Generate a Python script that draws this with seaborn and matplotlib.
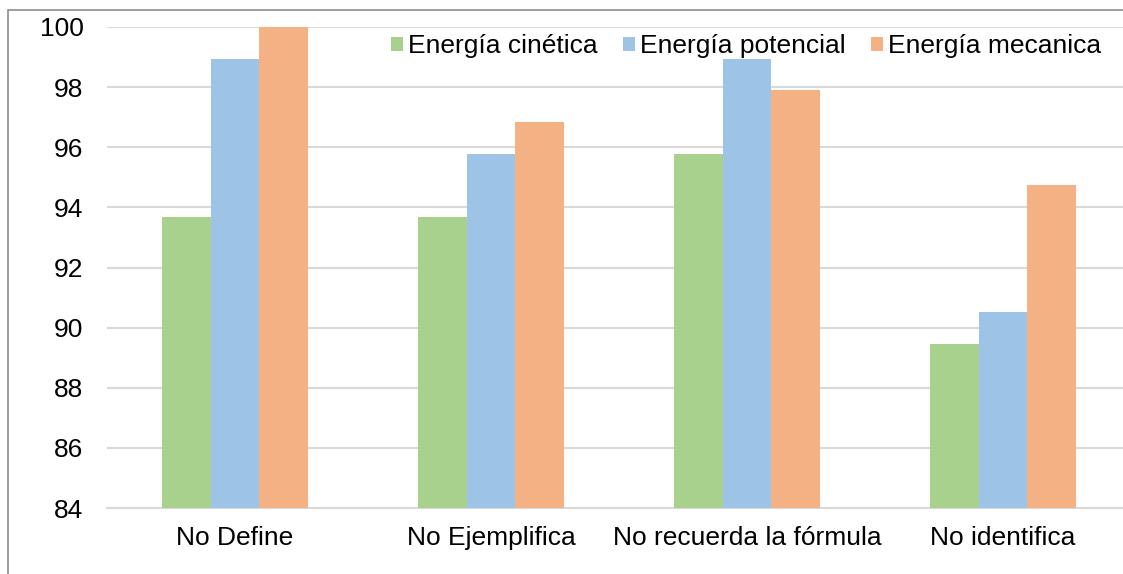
import matplotlib
matplotlib.use("Agg")
import matplotlib.pyplot as plt
from matplotlib.patches import Rectangle
import seaborn as sns
import pandas as pd

categories = ["No Define", "No Ejemplifica", "No recuerda la fórmula", "No identifica"]
series = ["Energía cinética", "Energía potencial", "Energía mecanica"]
cinetica = [93.68, 93.68, 95.79, 89.47]
potencial = [98.95, 95.79, 98.95, 90.53]
mecanica = [100.0, 96.84, 97.89, 94.74]
y_ticks = [84, 86, 88, 90, 92, 94, 96, 98, 100]

colors = ["#A9D18E", "#9DC3E6", "#F4B183"]

df = pd.DataFrame({
    "categoria": categories * 3,
    "serie": [series[0]] * 4 + [series[1]] * 4 + [series[2]] * 4,
    "valor": cinetica + potencial + mecanica,
})

sns.set_theme(style="white")
plt.rcParams["font.family"] = ["Liberation Sans", "DejaVu Sans"]

W, H = 1123, 574
fig = plt.figure(figsize=(W / 100, H / 100), dpi=100)
left_px, right_px, top_px, bottom_px = 107, 1131, 27, 508
ax = fig.add_axes([left_px / W, 1 - bottom_px / H,
                   (right_px - left_px) / W, (bottom_px - top_px) / H])

sns.barplot(data=df, x="categoria", y="valor", hue="serie", order=categories,
            hue_order=series, palette=colors, width=0.574, gap=0,
            saturation=1, errorbar=None, linewidth=0, ax=ax, zorder=3)

ax.set_ylim(84, 100)
ax.set_xlim(-0.5, 3.5)
ax.set_yticks(y_ticks)
ax.set_yticklabels([str(v) for v in y_ticks])
ax.set_xlabel("")
ax.set_ylabel("")
ax.yaxis.grid(True, color="#D9D9D9", linewidth=1.5, zorder=0)
ax.set_axisbelow(True)
for s in ["left", "right", "top"]:
    ax.spines[s].set_visible(False)
ax.spines["bottom"].set_color("#D9D9D9")
ax.spines["bottom"].set_linewidth(1.5)
ax.tick_params(axis="y", length=0, pad=17, labelsize=19, labelcolor="#000000")
ax.tick_params(axis="x", length=0, pad=13, labelsize=19, labelcolor="#000000")

ax.legend_.remove()
handles = [Rectangle((0, 0), 1, 1, facecolor=c, edgecolor="none") for c in colors]
fig.legend(handles, series, loc="center", bbox_to_anchor=(746 / W, 1 - 46 / H),
           bbox_transform=fig.transFigure, ncol=3, frameon=False, fontsize=19,
           labelcolor="#000000", handlelength=0.45, handleheight=0.45,
           handletextpad=0.2, columnspacing=0.95, borderaxespad=0, borderpad=0)

# outer chart border
fig.add_artist(Rectangle((7.5 / W, -0.1), 1.2, 1.1 - 10.5 / H,
                         transform=fig.transFigure, facecolor="none",
                         edgecolor="#8C8C8C", linewidth=1.2))

fig.savefig("out.png", dpi=100)
